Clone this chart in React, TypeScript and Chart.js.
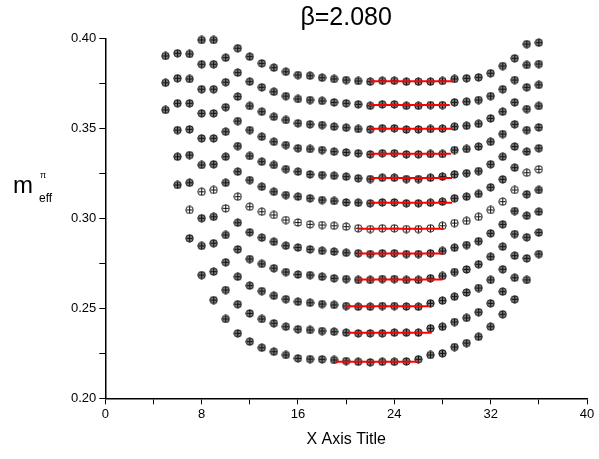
import React, { useEffect, useRef } from "react";
import { Chart, registerables } from "chart.js";

Chart.register(...registerables);

// first time slice (x) of each series
const seriesStart = [5, 5, 5, 6, 6, 6, 7, 7, 8, 8, 9, 11];

const s1 = [0.3903, 0.3918, 0.3914, 0.3992, 0.3992, 0.3893, 0.3946, 0.3899, 0.3862, 0.3838, 0.3815, 0.3797, 0.3793, 0.3782, 0.3775, 0.3769, 0.3764, 0.3760, 0.3765, 0.3765, 0.3760, 0.3760, 0.3760, 0.3764, 0.3775, 0.3779, 0.3784, 0.3807, 0.3847, 0.3890, 0.3969, 0.3977];
const s2 = [0.3754, 0.3779, 0.3775, 0.3857, 0.3857, 0.3757, 0.3810, 0.3760, 0.3729, 0.3704, 0.3680, 0.3664, 0.3658, 0.3653, 0.3645, 0.3640, 0.3634, 0.3626, 0.3634, 0.3634, 0.3626, 0.3626, 0.3630, 0.3630, 0.3645, 0.3649, 0.3658, 0.3680, 0.3718, 0.3769, 0.3853, 0.3858];
const s3 = [0.3603, 0.3640, 0.3640, 0.3718, 0.3718, 0.3618, 0.3677, 0.3625, 0.3593, 0.3565, 0.3547, 0.3529, 0.3523, 0.3519, 0.3510, 0.3504, 0.3497, 0.3495, 0.3501, 0.3501, 0.3494, 0.3495, 0.3497, 0.3499, 0.3510, 0.3515, 0.3526, 0.3556, 0.3593, 0.3645, 0.3729, 0.3742];
const s4 = [0.3491, 0.3495, 0.3584, 0.3584, 0.3482, 0.3541, 0.3491, 0.3454, 0.3426, 0.3408, 0.3390, 0.3386, 0.3380, 0.3371, 0.3367, 0.3362, 0.3356, 0.3362, 0.3362, 0.3356, 0.3356, 0.3358, 0.3358, 0.3380, 0.3386, 0.3399, 0.3426, 0.3469, 0.3523, 0.3608, 0.3625];
const s5 = [0.3343, 0.3352, 0.3445, 0.3445, 0.3343, 0.3402, 0.3347, 0.3315, 0.3297, 0.3274, 0.3260, 0.3245, 0.3241, 0.3237, 0.3232, 0.3223, 0.3219, 0.3226, 0.3226, 0.3219, 0.3219, 0.3226, 0.3232, 0.3245, 0.3251, 0.3263, 0.3301, 0.3343, 0.3399, 0.3491, 0.3506];
const s6 = [0.3186, 0.3198, 0.3297, 0.3301, 0.3198, 0.3260, 0.3213, 0.3176, 0.3148, 0.3130, 0.3121, 0.3112, 0.3102, 0.3097, 0.3089, 0.3087, 0.3084, 0.3089, 0.3089, 0.3084, 0.3084, 0.3087, 0.3093, 0.3112, 0.3121, 0.3136, 0.3173, 0.3217, 0.3282, 0.3371, 0.3390];
const s7 = [0.3047, 0.3148, 0.3158, 0.3056, 0.3121, 0.3065, 0.3037, 0.3019, 0.2991, 0.2977, 0.2967, 0.2963, 0.2959, 0.2954, 0.2945, 0.2941, 0.2945, 0.2945, 0.2941, 0.2941, 0.2945, 0.2959, 0.2974, 0.2986, 0.3009, 0.3047, 0.3093, 0.3158, 0.3254, 0.3273];
const s8 = [0.2889, 0.3001, 0.3009, 0.2908, 0.2976, 0.2923, 0.2893, 0.2870, 0.2848, 0.2838, 0.2828, 0.2820, 0.2815, 0.2809, 0.2806, 0.2802, 0.2806, 0.2806, 0.2802, 0.2802, 0.2806, 0.2819, 0.2837, 0.2852, 0.2873, 0.2917, 0.2967, 0.3041, 0.3134, 0.3158];
const s9 = [0.2847, 0.2862, 0.2756, 0.2828, 0.2774, 0.2747, 0.2723, 0.2702, 0.2688, 0.2685, 0.2676, 0.2667, 0.2663, 0.2658, 0.2658, 0.2663, 0.2663, 0.2658, 0.2658, 0.2667, 0.2680, 0.2702, 0.2716, 0.2745, 0.2787, 0.2843, 0.2913, 0.3015, 0.3037];
const s10 = [0.2685, 0.2704, 0.2602, 0.2676, 0.2626, 0.2596, 0.2570, 0.2551, 0.2537, 0.2531, 0.2524, 0.2519, 0.2513, 0.2509, 0.2509, 0.2513, 0.2513, 0.2510, 0.2509, 0.2528, 0.2543, 0.2565, 0.2588, 0.2613, 0.2658, 0.2717, 0.2793, 0.2895, 0.2921];
const s11 = [0.2546, 0.2441, 0.2523, 0.2472, 0.2441, 0.2417, 0.2398, 0.2384, 0.2380, 0.2374, 0.2370, 0.2365, 0.2361, 0.2361, 0.2361, 0.2365, 0.2365, 0.2365, 0.2389, 0.2398, 0.2424, 0.2447, 0.2479, 0.2528, 0.2593, 0.2670, 0.2778, 0.2802];
const s12 = [0.2361, 0.2315, 0.2281, 0.2259, 0.2241, 0.2222, 0.2218, 0.2217, 0.2213, 0.2207, 0.2203, 0.2200, 0.2203, 0.2203, 0.2205, 0.2217, 0.2241, 0.2250, 0.2285, 0.2307, 0.2342, 0.2398, 0.2467, 0.2550, 0.2658];

const seriesValues = [s1, s2, s3, s4, s5, s6, s7, s8, s9, s10, s11, s12];

// plateau fits (red lines)
const fitStart = [22.0, 21.9, 21.9, 21.9, 22.0, 22.0, 21.0, 21.0, 20.9, 19.9, 20.2, 19.1];
const fitEnd = [28.9, 28.6, 28.8, 28.7, 28.8, 28.8, 28.1, 28.0, 28.0, 26.9, 27.1, 26.0];
const fitValue = [0.3763, 0.3630, 0.3498, 0.3359, 0.3224, 0.3087, 0.2943, 0.2805, 0.2660, 0.2511, 0.2364, 0.2203];

const openSeries = [6]; // index of series drawn with white markers

const xTicksMajor = [0, 8, 16, 24, 32, 40];
const yTicksMajor = [0.2, 0.25, 0.3, 0.35, 0.4];

const FONT = "'Liberation Sans', Arial, Helvetica, sans-serif";

function makeMarker(fill: string): HTMLCanvasElement {
  const c = document.createElement("canvas");
  c.width = 9;
  c.height = 9;
  const g = c.getContext("2d")!;
  g.beginPath();
  g.arc(4.5, 4.5, 3.7, 0, Math.PI * 2);
  g.fillStyle = fill;
  g.fill();
  g.lineWidth = 1;
  g.strokeStyle = "#111";
  g.stroke();
  g.beginPath();
  g.moveTo(4.5, 1);
  g.lineTo(4.5, 8);
  g.moveTo(1.5, 4.5);
  g.lineTo(7.5, 4.5);
  g.stroke();
  return c;
}

const yTitlePlugin = {
  id: "yTitleMeff",
  afterDraw(chart: any) {
    const ctx = chart.ctx;
    ctx.save();
    ctx.fillStyle = "#000";
    ctx.textBaseline = "alphabetic";
    ctx.textAlign = "left";
    ctx.font = `24px ${FONT}`;
    ctx.fillText("m", 13, 193);
    ctx.font = `9px ${FONT}`;
    ctx.fillText("π", 40, 178);
    ctx.font = `12px ${FONT}`;
    ctx.fillText("eff", 39, 202);
    ctx.restore();
  },
};

export default function App() {
  const ref = useRef<HTMLCanvasElement>(null);

  useEffect(() => {
    if (!ref.current) return;
    const grayMarker = makeMarker("#7a7a7a");
    const whiteMarker = makeMarker("#ffffff");

    const pointSets = seriesValues.map((vals, i) => ({
      type: "scatter" as const,
      data: vals.map((v, j) => ({ x: seriesStart[i] + j, y: v })),
      pointStyle: openSeries.includes(i) ? whiteMarker : grayMarker,
      showLine: false,
      clip: false,
      order: 2,
    }));
    const fitSets = fitValue.map((v, i) => ({
      type: "line" as const,
      data: [
        { x: fitStart[i], y: v },
        { x: fitEnd[i], y: v },
      ],
      borderColor: "#ff0000",
      borderWidth: 2,
      pointRadius: 0,
      showLine: true,
      fill: false,
      order: 1,
    }));

    const chart = new Chart(ref.current, {
      type: "scatter",
      data: { datasets: [...fitSets, ...pointSets] as any },
      options: {
        responsive: false,
        animation: false,
        layout: { padding: { left: 0, right: 12, top: 0, bottom: 0 } },
        plugins: {
          legend: { display: false },
          tooltip: { enabled: false },
          title: {
            display: true,
            text: "β=2.080",
            fullSize: false,
            color: "#000",
            font: { family: FONT, size: 25, weight: "normal" as any },
            padding: { top: 3, bottom: 5.5 },
          },
        },
        scales: {
          x: {
            type: "linear",
            min: 0,
            max: 40,
            border: { display: true, color: "#000", width: 1.5 },
            grid: { drawOnChartArea: false, drawTicks: true, tickLength: 6, tickColor: "#000", tickWidth: 1 },
            ticks: {
              stepSize: 4,
              autoSkip: false,
              maxRotation: 0,
              padding: 2,
              color: "#000",
              font: { family: FONT, size: 13 },
              callback: (v: any) => (xTicksMajor.includes(Number(v)) ? String(v) : ""),
            },
            title: {
              display: true,
              text: "X Axis Title",
              color: "#000",
              font: { family: FONT, size: 16 },
              padding: { top: 8, bottom: 10 },
            },
            afterFit: (scale: any) => {
              scale.height = 60.7;
            },
          },
          y: {
            type: "linear",
            min: 0.2,
            max: 0.4,
            border: { display: true, color: "#000", width: 1.5 },
            grid: { drawOnChartArea: false, drawTicks: true, tickLength: 6, tickColor: "#000", tickWidth: 1 },
            ticks: {
              stepSize: 0.025,
              autoSkip: false,
              padding: 3,
              color: "#000",
              font: { family: FONT, size: 13 },
              callback: (v: any) => {
                const n = Number(v);
                return yTicksMajor.some((t) => Math.abs(t - n) < 1e-6) ? n.toFixed(2) : "";
              },
            },
            afterFit: (scale: any) => {
              scale.width = 105.3;
            },
          },
        },
      },
      plugins: [yTitlePlugin],
    });
    return () => chart.destroy();
  }, []);

  return (
    <div style={{ position: "absolute", left: 0, top: 0, width: 599, height: 459, background: "#fff" }}>
      <canvas ref={ref} width={599} height={459} style={{ width: 599, height: 459, display: "block" }} />
    </div>
  );
}
